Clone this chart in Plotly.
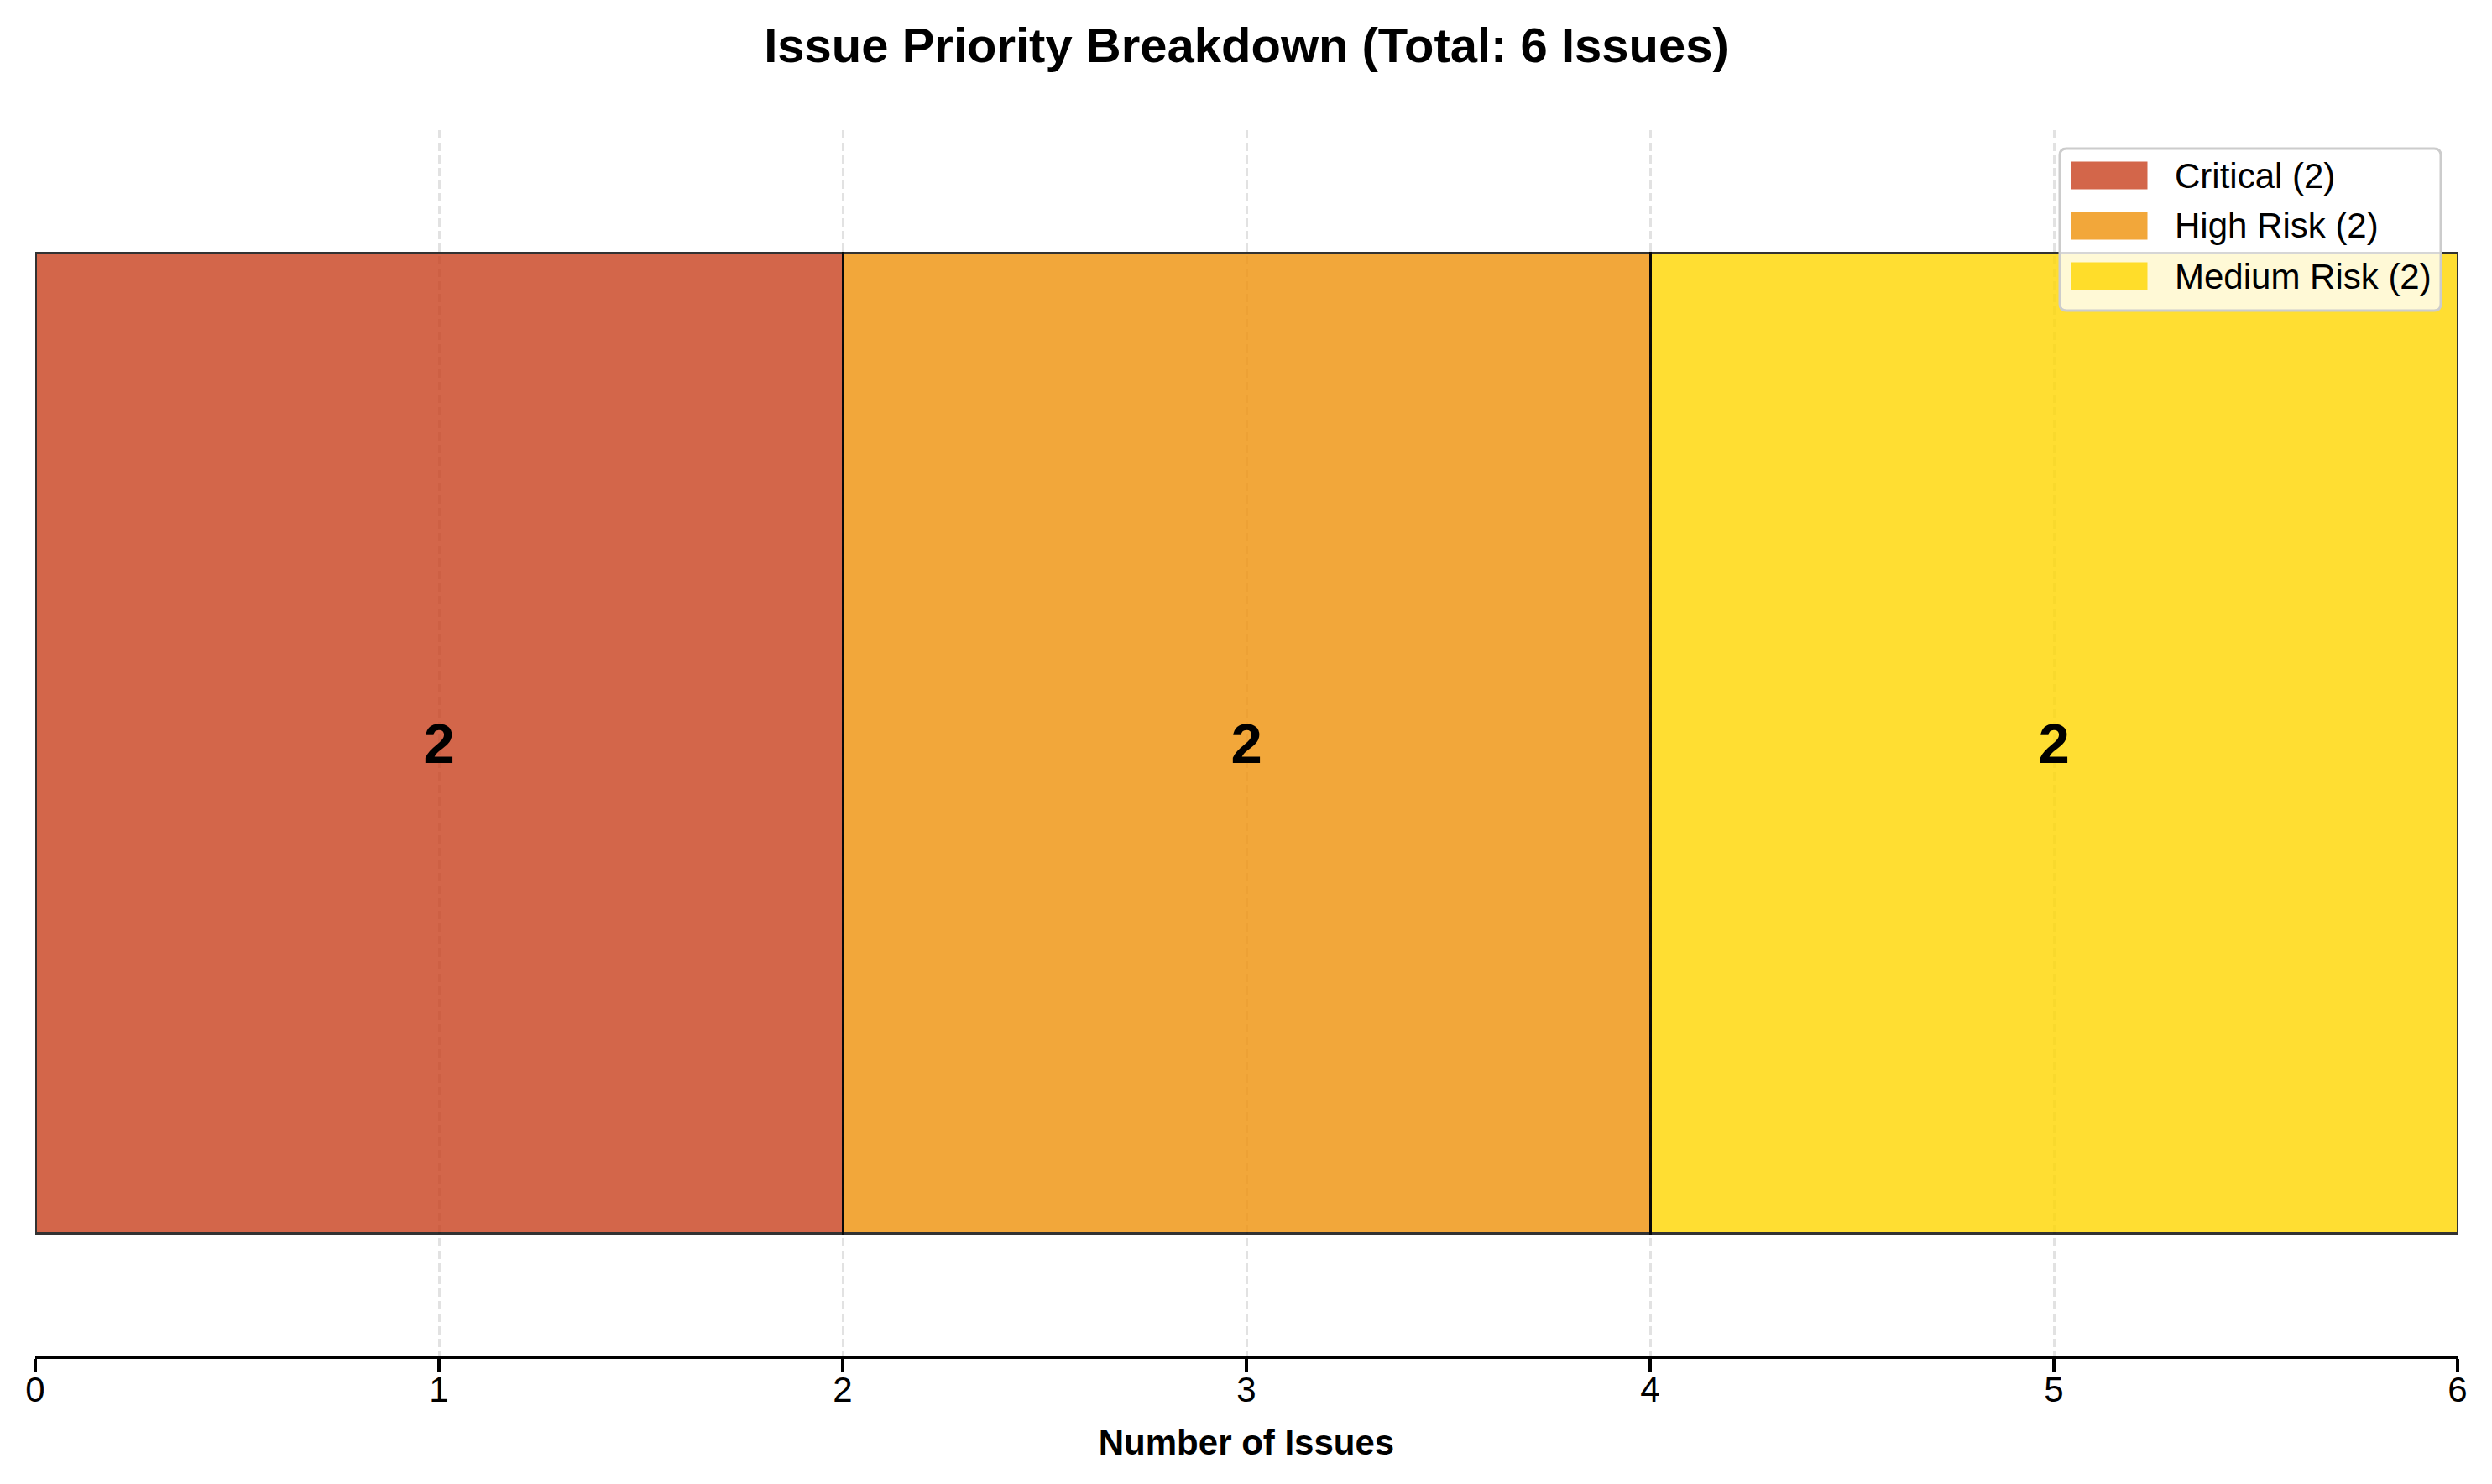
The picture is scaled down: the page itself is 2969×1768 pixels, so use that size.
import plotly.graph_objects as go

# issue counts per priority level
priorities = ['Critical', 'High Risk', 'Medium Risk']
counts = [2, 2, 2]
colors = ['rgb(201,64,29)', 'rgb(240,146,10)', 'rgb(255,215,0)']
x_ticks = [0, 1, 2, 3, 4, 5, 6]

total = sum(counts)
font_family = 'Liberation Sans, Arial, Helvetica, sans-serif'

# plot area in screen pixels (page has an 8px body margin)
PX0, PX1 = 42, 2928
PY0, PY1 = 155, 1615


def px_x(p):
    return (p - PX0) / (PX1 - PX0)


def px_y(p):
    return (PY1 - p) / (PY1 - PY0)


fig = go.Figure()

for i in range(len(priorities)):
    fig.add_trace(go.Bar(
        x=[counts[i]],
        y=[0],
        orientation='h',
        width=0.8,
        name='{} ({})'.format(priorities[i], counts[i]),
        text=[str(counts[i])],
        textposition='inside',
        insidetextanchor='middle',
        textangle=0,
        textfont=dict(size=67, color='black', family=font_family, weight='bold'),
        marker=dict(color=colors[i], opacity=0.8,
                    line=dict(color='black', width=3)),
        showlegend=False,
    ))

# legend drawn by hand so the patches look like matplotlib ones
lx0, lx1, ly0, ly1, rad = 2454, 2908, 177, 370, 8
box = ('M {a},{t} L {b},{t} Q {r},{t} {r},{tt} L {r},{bb} Q {r},{bo} {b},{bo} '
       'L {a},{bo} Q {l},{bo} {l},{bb} L {l},{tt} Q {l},{t} {a},{t} Z').format(
    l=px_x(lx0), r=px_x(lx1), a=px_x(lx0 + rad), b=px_x(lx1 - rad),
    t=px_y(ly0), bo=px_y(ly1), tt=px_y(ly0 + rad), bb=px_y(ly1 - rad))
fig.add_shape(type='path', path=box, xref='paper', yref='paper', layer='above',
              fillcolor='rgba(255,255,255,0.8)', line=dict(color='#cccccc', width=3))

for i in range(len(priorities)):
    cy = 209 + 60 * i
    fig.add_shape(type='rect', xref='paper', yref='paper', layer='above',
                  x0=px_x(2469), x1=px_x(2557), y0=px_y(cy - 15), y1=px_y(cy + 15),
                  fillcolor=colors[i], opacity=0.8, line=dict(color=colors[i], width=3))
    fig.add_annotation(x=px_x(2589), y=px_y(cy), xref='paper', yref='paper',
                       xanchor='left', yanchor='middle', showarrow=False,
                       text='{} ({})'.format(priorities[i], counts[i]),
                       font=dict(size=42, color='black'))

fig.update_layout(
    barmode='stack',
    width=2961,
    height=1760,
    margin=dict(l=34, r=41, t=147, b=153),
    paper_bgcolor='white',
    plot_bgcolor='white',
    font=dict(family=font_family, size=42, color='black'),
    title=dict(
        text='Issue Priority Breakdown (Total: {} Issues)'.format(total),
        font=dict(size=58, weight='bold', color='black'),
        x=0.5, xref='paper', xanchor='center',
        y=0.974, yref='container', yanchor='middle',
    ),
    xaxis=dict(
        range=[0, total],
        tickvals=x_ticks,
        ticks='outside',
        ticklen=15,
        tickwidth=3.5,
        tickcolor='black',
        ticklabelstandoff=-14,
        showline=True,
        linewidth=3.5,
        linecolor='black',
        zeroline=False,
        showgrid=True,
        gridcolor='#e2e2e2',
        gridwidth=2.5,
        griddash='10px,5px',
        tickfont=dict(size=42),
        title=dict(text='Number of Issues', font=dict(size=42, weight='bold'), standoff=26),
    ),
    yaxis=dict(
        range=[-0.5, 0.5],
        visible=False,
        fixedrange=True,
    ),
    showlegend=False,
)

fig.write_html("out.html")
